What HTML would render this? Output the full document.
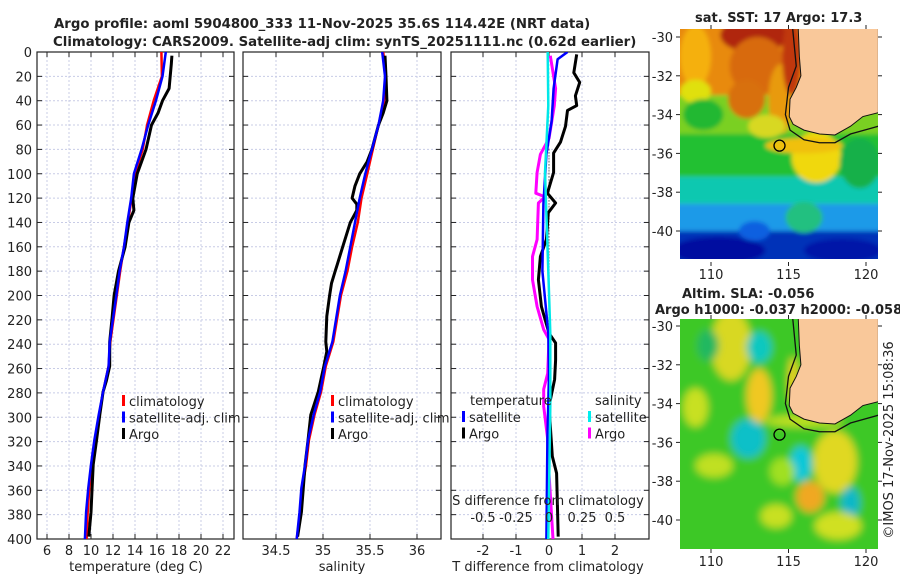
<!DOCTYPE html>
<html><head><meta charset="utf-8">
<style>
body{margin:0;background:#fff;width:900px;height:580px;overflow:hidden;font-family:"DejaVu Sans","Liberation Sans",sans-serif;}
svg{position:absolute;left:0;top:0}
text{font-family:"DejaVu Sans","Liberation Sans",sans-serif;fill:#222}
</style></head>
<body>
<svg id="chart" width="900" height="580" viewBox="0 0 900 580">
<defs>
<clipPath id="cp1"><rect x="37" y="52" width="197" height="487"/></clipPath>
<clipPath id="cp2"><rect x="243" y="52" width="198" height="487"/></clipPath>
<clipPath id="cp3"><rect x="451" y="52" width="198" height="487"/></clipPath>
<clipPath id="cpm1"><rect x="680" y="29" width="198" height="230"/></clipPath>
<clipPath id="cpm2"><rect x="680" y="319" width="198" height="230"/></clipPath>
<filter id="blur4"><feGaussianBlur stdDeviation="4"/></filter>
<filter id="blur2"><feGaussianBlur stdDeviation="2"/></filter>
</defs>
<text x="54" y="28" font-size="13.3" font-weight="bold">Argo profile: aoml 5904800_333 11-Nov-2025 35.6S 114.42E (NRT data)</text>
<text x="53" y="46" font-size="13.3" font-weight="bold">Climatology: CARS2009. Satellite-adj clim: synTS_20251111.nc (0.62d earlier)</text>
<g id="g1"></g><g id="g2"></g><g id="g3"></g><g id="m1"></g><g id="m2"></g>
<text transform="translate(893,440) rotate(-90)" text-anchor="middle" font-size="13">©IMOS 17-Nov-2025 15:08:36</text>
</svg>
<script>
// ---- data ----
const depthTicks=[0,20,40,60,80,100,120,140,160,180,200,220,240,260,280,300,320,340,360,380,400];
const tempTicks=[6,8,10,12,14,16,18,20,22];
const salTicks=[34.5,35,35.5,36];
const tdiffTicks=[-2,-1,0,1,2];
const sdiffTicks=[-0.5,-0.25,0,0.25,0.5];

const argoTDepth=[3,10,20,30,40,50,60,80,90,100,120,130,140,160,180,200,220,238,258,270,279,298,319,339,358,378,398];
const argoTemp=[17.35,17.3,17.2,17.1,16.5,16.1,15.5,15.0,14.6,14.2,13.8,13.9,13.45,13.1,12.5,12.1,11.9,11.7,11.7,11.4,11.1,10.8,10.5,10.2,10.1,10.0,9.8];
const climDepth=[0,20,40,60,80,100,120,140,160,180,200,238,258,279,298,319,339,358,378,400];
const climTemp=[16.4,16.45,15.7,15.1,14.7,14.0,13.7,13.35,13.0,12.65,12.35,11.75,11.6,11.1,10.75,10.4,10.1,9.85,9.7,9.6];
const satTemp=[16.8,16.5,15.9,15.2,14.6,13.9,13.65,13.3,13.0,12.6,12.3,11.7,11.6,11.1,10.7,10.3,10.0,9.75,9.55,9.45];

const argoSDepth=[3,20,40,50,60,80,90,100,110,120,125,130,140,160,175,180,190,200,217,238,246,258,279,298,319,339,358,378,398];
const argoSal=[35.66,35.67,35.68,35.64,35.59,35.52,35.47,35.39,35.34,35.31,35.36,35.36,35.29,35.21,35.15,35.13,35.09,35.07,35.04,35.03,35.04,35.01,34.95,34.87,34.84,34.81,34.79,34.77,34.73];
const climSal=[35.64,35.67,35.65,35.59,35.53,35.47,35.41,35.37,35.31,35.26,35.19,35.11,35.03,34.98,34.91,34.85,34.82,34.78,34.76,34.72];
const satSal=[35.63,35.66,35.64,35.59,35.52,35.45,35.39,35.34,35.29,35.24,35.18,35.1,35.02,34.97,34.9,34.84,34.81,34.77,34.75,34.72];

const argoTdDepth=[2,17,25,36,44,48,61,74,83,99,116,124,132,154,168,187,209,231,239,253,269,291,332,346,378,398];
const argoTdiff=[0.84,0.75,0.93,0.8,0.84,0.56,0.5,0.35,0.14,0.14,-0.05,0.2,-0.02,-0.08,-0.26,-0.32,-0.23,0,0.2,0.2,0.17,0,0.1,0.23,0.26,0.28];
const satTdDepth=[0,6,30,57,84,125,180,231,264,318,400];
const satTdiff=[0.56,0.26,0.14,0.08,-0.08,-0.17,-0.2,-0.02,0,-0.05,-0.08];
const argoSdDepth=[3,30,44,71,84,99,116,119,124,154,168,187,209,228,236,264,277,291,318,346,400];
const argoSdiff=[0.01,0.05,0.04,0.0,-0.065,-0.09,-0.1,-0.03,-0.08,-0.09,-0.125,-0.125,-0.09,-0.04,0,-0.01,-0.04,-0.04,-0.01,0,0.03];
const satSdDepth=[0,44,99,180,231,291,400];
const satSdiff=[-0.01,-0.005,-0.03,-0.005,0.01,0.01,-0.005];

// ---- helpers ----
const NS="http://www.w3.org/2000/svg";
function mk(tag,attrs,parent){const e=document.createElementNS(NS,tag);for(const k in attrs)e.setAttribute(k,attrs[k]);parent.appendChild(e);return e;}
const Y0=52,Y1=539;
const yS=d=>Y0+(d/400)*(Y1-Y0);
function lin(d0,d1,r0,r1){return v=>r0+(v-d0)/(d1-d0)*(r1-r0);}

function panel(g,x0,x1,xs,ticks,fmt,showY,clip){
  for(const t of ticks){const x=xs(t);
    const l=mk('line',{x1:x,x2:x,y1:Y0,y2:Y1,stroke:'#c8cce6','stroke-dasharray':'2,2','stroke-width':1},g);
    }
  for(const d of depthTicks){const y=yS(d);
    const l=mk('line',{x1:x0,x2:x1,y1:y,y2:y,stroke:'#c8cce6','stroke-dasharray':'2,2','stroke-width':1},g);
    
    mk('line',{x1:x0,x2:x0+5,y1:y,y2:y,stroke:'#222'},g);mk('line',{x1:x1-5,x2:x1,y1:y,y2:y,stroke:'#222'},g);
    if(showY){const t=mk('text',{x:x0-5,y:y+5,'text-anchor':'end','font-size':13},g);t.textContent=d;
      }}
  for(const t of ticks){const x=xs(t);
    mk('line',{x1:x,x2:x,y1:Y1-5,y2:Y1,stroke:'#222'},g);mk('line',{x1:x,x2:x,y1:Y0,y2:Y0+5,stroke:'#222'},g);
    if(fmt){const tx=mk('text',{x:x,y:555,'text-anchor':'middle','font-size':13},g);tx.textContent=fmt(t);
      }}
  const f=mk('rect',{x:x0,y:Y0,width:x1-x0,height:Y1-Y0,fill:'none',stroke:'#222','stroke-width':1.2},g);
  
}
function series(g,xs,vals,deps,color,w,name,clip,scale){
  const pts=vals.map((v,i)=>xs(v*(scale||1)).toFixed(1)+','+yS(deps[i]).toFixed(1)).join(' ');
  const p=mk('polyline',{points:pts,fill:'none',stroke:color,'stroke-width':w,'stroke-linejoin':'round','clip-path':'url(#'+clip+')'},g);
  
}
function legend(g,x,y,items){
  items.forEach((it,i)=>{const yy=y+i*16.5;
    const m=mk('rect',{x:x,y:yy-6,width:3,height:11,fill:it[1]},g);
    
    const t=mk('text',{x:x+7,y:yy+5,'font-size':13},g);t.textContent=it[0];
    });
}
function label(g,x,y,s,name,anchor,size){const t=mk('text',{x:x,y:y,'text-anchor':anchor||'middle','font-size':size||13},g);t.textContent=s;
  return t;}

// Panel 1 temperature
const g1=document.getElementById('g1');
const xT=lin(6,22,47,223);
panel(g1,37,234,xT,tempTicks,v=>v,true,'cp1');
series(g1,xT,climTemp,climDepth,'#ff0000',2.5,'climatology-temp-line','cp1');
series(g1,xT,argoTemp,argoTDepth,'#000',3,'argo-temp-line','cp1');
series(g1,xT,satTemp,climDepth,'#0000ff',2.5,'satellite-temp-line','cp1');
legend(g1,122,401,[['climatology','#f00'],['satellite-adj. clim','#00f'],['Argo','#000']]);
label(g1,136,571,'temperature (deg C)','x-axis-title-temperature');

// Panel 2 salinity
const g2=document.getElementById('g2');
const xS=lin(34.5,36,276,417);
panel(g2,243,441,xS,salTicks,v=>v,false,'cp2');
series(g2,xS,climSal,climDepth,'#ff0000',2.5,'climatology-sal-line','cp2');
series(g2,xS,argoSal,argoSDepth,'#000',3,'argo-sal-line','cp2');
series(g2,xS,satSal,climDepth,'#0000ff',2.5,'satellite-sal-line','cp2');
legend(g2,331,401,[['climatology','#f00'],['satellite-adj. clim','#00f'],['Argo','#000']]);
label(g2,342,571,'salinity','x-axis-title-salinity');

// Panel 3 differences
const g3=document.getElementById('g3');
const xD=lin(-2,2,483,615);
panel(g3,451,649,xD,tdiffTicks,v=>v,false,'cp3');
const dz=mk('line',{x1:xD(0),x2:xD(0),y1:yS(80),y2:yS(280),stroke:'#444','stroke-dasharray':'1,2','stroke-width':1.2},g3);

series(g3,xD,argoTdiff,argoTdDepth,'#000',3,'argo-tdiff-line','cp3');
series(g3,xD,argoSdiff,argoSdDepth,'#ff00ff',3,'argo-sdiff-line','cp3',4);
series(g3,xD,satTdiff,satTdDepth,'#0000ff',2.5,'satellite-tdiff-line','cp3');
series(g3,xD,satSdiff,satSdDepth,'#00e8e8',2.5,'satellite-sdiff-line','cp3',4);
label(g3,470,405,'temperature','legend-title-temperature','start');
legend(g3,462,417,[['satellite','#00f'],['Argo','#000']]);
label(g3,595,405,'salinity','legend-title-salinity','start');
legend(g3,588,417,[['satellite','#0ee'],['Argo','#f0f']]);
label(g3,548,505,'S difference from climatology','s-axis-title');
for(const s of sdiffTicks){label(g3,xD(s*4),522,String(s),'s-tick-label');}
label(g3,548,571,'T difference from climatology','x-axis-title-tdiff');

// ---- maps ----
function mapAxes(g,top,bottom,latY,name){
  const lonX=lin(110,120,711,866);
  for(const lo of [110,115,120]){const x=lonX(lo);
    mk('line',{x1:x,x2:x,y1:bottom,y2:bottom+4,stroke:'#222'},g);mk('line',{x1:x,x2:x,y1:top-4,y2:top,stroke:'#222'},g);
    label(g,x,bottom+17,String(lo),name+'-lon-label');}
  for(const la of [-30,-32,-34,-36,-38,-40]){const y=latY(la);
    mk('line',{x1:676,x2:680,y1:y,y2:y,stroke:'#222'},g);mk('line',{x1:878,x2:882,y1:y,y2:y,stroke:'#222'},g);
    label(g,673,y+5,String(la),name+'-lat-label','end');}
  return lonX;
}
function coast(g,lonX,latY,clip){
  const land=[[115.6,-29],[115.7,-31],[115.8,-32],[115.5,-32.6],[115.1,-33.2],[115.05,-34.1],[115.3,-34.5],[116,-34.8],[117,-35.0],[118,-35.05],[119,-34.6],[119.8,-34.1],[120.8,-33.9],[120.8,-29]];
  const pl=mk('polygon',{points:land.map(p=>lonX(p[0])+','+latY(p[1])).join(' '),fill:'#f9c89a',stroke:'#111','stroke-width':1,'clip-path':'url(#'+clip+')'},g);
  
  const iso=[[115.2,-29],[115.5,-31.5],[115,-32.6],[114.8,-34],[115.1,-34.8],[116,-35.3],[117,-35.45],[118,-35.45],[119,-35.0],[120.8,-34.6]];
  const il=mk('polyline',{points:iso.map(p=>lonX(p[0])+','+latY(p[1])).join(' '),fill:'none',stroke:'#111','stroke-width':1.3,'clip-path':'url(#'+clip+')'},g);
  
  const c=mk('circle',{cx:lonX(114.42),cy:latY(-35.6),r:5.5,fill:'none',stroke:'#000','stroke-width':1.3},g);
  
}
// SST map
const m1=document.getElementById('m1');
label(m1,695,22,'sat. SST: 17 Argo: 17.3','sst-map-title','start').setAttribute('font-weight','bold');
const latY1=lin(-30,-40,37,231);
const lonX1=lin(110,120,711,866);
const sst=mk('g',{'clip-path':'url(#cpm1)'},m1);

const bands=[[-29,-33,'#e88a10'],[-33,-35,'#7ad020'],[-35,-37.2,'#22c030'],[-37.2,-38.6,'#10c8b0'],[-38.6,-40,'#1a9ae8'],[-40,-42,'#0030b8']];
const inner=mk('g',{filter:'url(#blur2)'},sst);
for(const b of bands){mk('rect',{x:660,y:latY1(b[0]),width:240,height:latY1(b[1])-latY1(b[0]),fill:b[2]},inner);}
const blobs=[[112.8,-29.9,2.2,0.9,'#b02808'],[113,-31.5,1.8,1.5,'#d86a08'],[112.3,-33.2,1.2,1.0,'#d87010'],[114.5,-33.2,0.8,1.8,'#e89a10'],[115.2,-31,0.6,2,'#c03808'],
[109,-31,1,1.6,'#f5b010'],[109,-32.8,1,0.6,'#e0e010'],[109.5,-34,1.3,0.8,'#20b830'],[113.6,-34.6,1.2,0.6,'#d8d820'],[116.8,-36.2,1.6,1.3,'#f0d810'],
[116,-35.6,2.5,0.4,'#f0c010'],[119.6,-36.5,1.3,1.3,'#18b048'],[116,-39.3,1.2,0.8,'#20c080'],[110.5,-41,3,0.7,'#0010a0'],[118.5,-41,2.5,0.6,'#0018a8'],[112.8,-40,1,0.5,'#1060e0']];
for(const b of blobs){mk('ellipse',{cx:lonX1(b[0]),cy:latY1(b[1]),rx:b[2]*15.5,ry:b[3]*19.4,fill:b[4]},inner);}
mk('rect',{x:680,y:259,width:198,height:3,fill:'#fff'},m1);
coast(sst,lonX1,latY1,'cpm1');
mapAxes(m1,29,262,latY1,'sst');

// SLA map
const m2=document.getElementById('m2');
label(m2,682,298,'Altim. SLA: -0.056','sla-map-title','start').setAttribute('font-weight','bold');
label(m2,655,314,'Argo h1000: -0.037 h2000: -0.058','argo-steric-title','start').setAttribute('font-weight','bold');
const latY2=lin(-30,-40,326,520);
const sla=mk('g',{'clip-path':'url(#cpm2)'},m2);

const inner2=mk('g',{filter:'url(#blur4)'},sla);
mk('rect',{x:660,y:300,width:240,height:260,fill:'#3cc828'},inner2);
const sblobs=[[111.3,-31,0.8,1.2,'#e88a10'],[111.3,-31,1.3,1.8,'#d8d820'],[113.1,-31.1,0.8,0.8,'#10c8c0'],[109.8,-31,0.7,0.8,'#20b860'],[113.1,-33.6,0.8,1.4,'#f0c820'],
[109,-34.2,0.8,1,'#c8e020'],[112.7,-35.8,0.7,0.7,'#1080e0'],[112.4,-35.8,1.1,1,'#10c0c8'],[115.8,-37.1,0.7,0.9,'#10c8d8'],[118,-37,1,1.2,'#e89010'],
[118,-37,1.4,1.6,'#e0d820'],[116.4,-38.8,0.9,0.8,'#f0a820'],[119,-39.1,0.6,0.8,'#10b8c8'],[110.2,-37.2,1.2,0.6,'#c0e020'],[118.2,-40.3,1.5,0.7,'#d0e020'],
[114.2,-39.8,1,0.6,'#c8e020'],[115.3,-32.8,0.3,1.2,'#f0d020'],[116,-34.9,2.5,0.3,'#c0e020'],[114.6,-37.5,0.8,0.7,'#a0e020']];
for(const b of sblobs){mk('ellipse',{cx:lonX1(b[0]),cy:latY2(b[1]),rx:b[2]*15.5,ry:b[3]*19.4,fill:b[4]},inner2);}
coast(sla,lonX1,latY2,'cpm2');
mapAxes(m2,319,549,latY2,'sla');
</script>
</body></html>
